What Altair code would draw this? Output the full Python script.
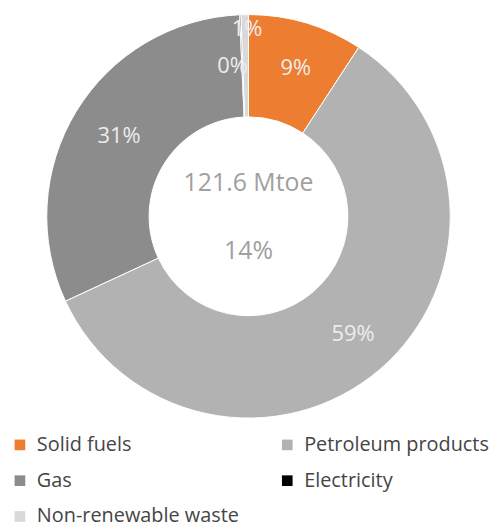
import altair as alt
import pandas as pd

categories = ["Solid fuels", "Petroleum products", "Gas", "Electricity", "Non-renewable waste"]
shares = [9.2, 58.9, 31.2, 0.1, 0.6]
labels = ["9%", "59%", "31%", "0%", "1%"]
colors = ["#ED7D31", "#B2B2B2", "#8C8C8C", "#000000", "#D9D9D9"]
center_lines = ["121.6 Mtoe", "14%"]

# legend is laid out column by column, so list entries column-wise
legend_order = ["Solid fuels", "Gas", "Non-renewable waste", "Petroleum products", "Electricity"]
legend_colors = [colors[categories.index(c)] for c in legend_order]

df = pd.DataFrame({
    "category": categories,
    "share": shares,
    "label": labels,
    "order": list(range(len(categories))),
})

W, H = 484, 416
FONT = "Open Sans"
total = sum(shares)
theta_scale = alt.Scale(domain=[0, total], range=[0, 6.283185307])

base = (
    alt.Chart(df)
    .transform_stack(stack="share", groupby=[], as_=["v0", "v1"], sort=[alt.SortField("order")])
    .transform_calculate(mid="(datum.v0 + datum.v1) / 2")
)

arc = base.mark_arc(outerRadius=203, innerRadius=100, stroke="white", strokeWidth=1).encode(
    theta=alt.Theta("v0:Q", scale=theta_scale),
    theta2="v1:Q",
    color=alt.Color(
        "category:N",
        scale=alt.Scale(domain=legend_order, range=legend_colors),
        legend=alt.Legend(
            title=None,
            orient="none",
            legendX=2,
            legendY=428,
            columns=2,
            columnPadding=38,
            rowPadding=16,
            symbolType="square",
            symbolSize=115,
            symbolStrokeWidth=0,
            labelFont=FONT,
            labelFontSize=20,
            labelColor="#454545",
            labelOffset=7,
            labelLimit=300,
        ),
    ),
    order=alt.Order("order:Q"),
)

txt_style = dict(font=FONT, fontSize=22, color="#EDEDED")

big = base.transform_filter("datum.share >= 5").mark_text(radius=156, dx=3, **txt_style).encode(
    theta=alt.Theta("mid:Q", scale=theta_scale), text="label:N"
)
elec = base.transform_filter("datum.category == 'Electricity'").mark_text(radius=151, dx=-10, **txt_style).encode(
    theta=alt.Theta("mid:Q", scale=theta_scale), text="label:N"
)
waste = base.transform_filter("datum.category == 'Non-renewable waste'").mark_text(radius=188, dx=2, **txt_style).encode(
    theta=alt.Theta("mid:Q", scale=theta_scale), text="label:N"
)

cdf = pd.DataFrame({"line": center_lines, "idx": [0, 1]})
center1 = alt.Chart(cdf).transform_filter("datum.idx == 0").mark_text(
    font=FONT, fontSize=25, color="#A0A0A0", dy=-33
).encode(x=alt.value(W / 2), y=alt.value(H / 2), text="line:N")
center2 = alt.Chart(cdf).transform_filter("datum.idx == 1").mark_text(
    font=FONT, fontSize=25, color="#A0A0A0", dy=35
).encode(x=alt.value(W / 2), y=alt.value(H / 2), text="line:N")

chart = (
    alt.layer(arc, big, elec, waste, center1, center2)
    .properties(width=W, height=H, background="white",
                padding={"left": 0, "top": 0, "right": 0, "bottom": 0})
    .configure_view(strokeWidth=0, stroke="transparent")
)

chart.save("out.html", embed_options={"renderer": "svg", "actions": False})
